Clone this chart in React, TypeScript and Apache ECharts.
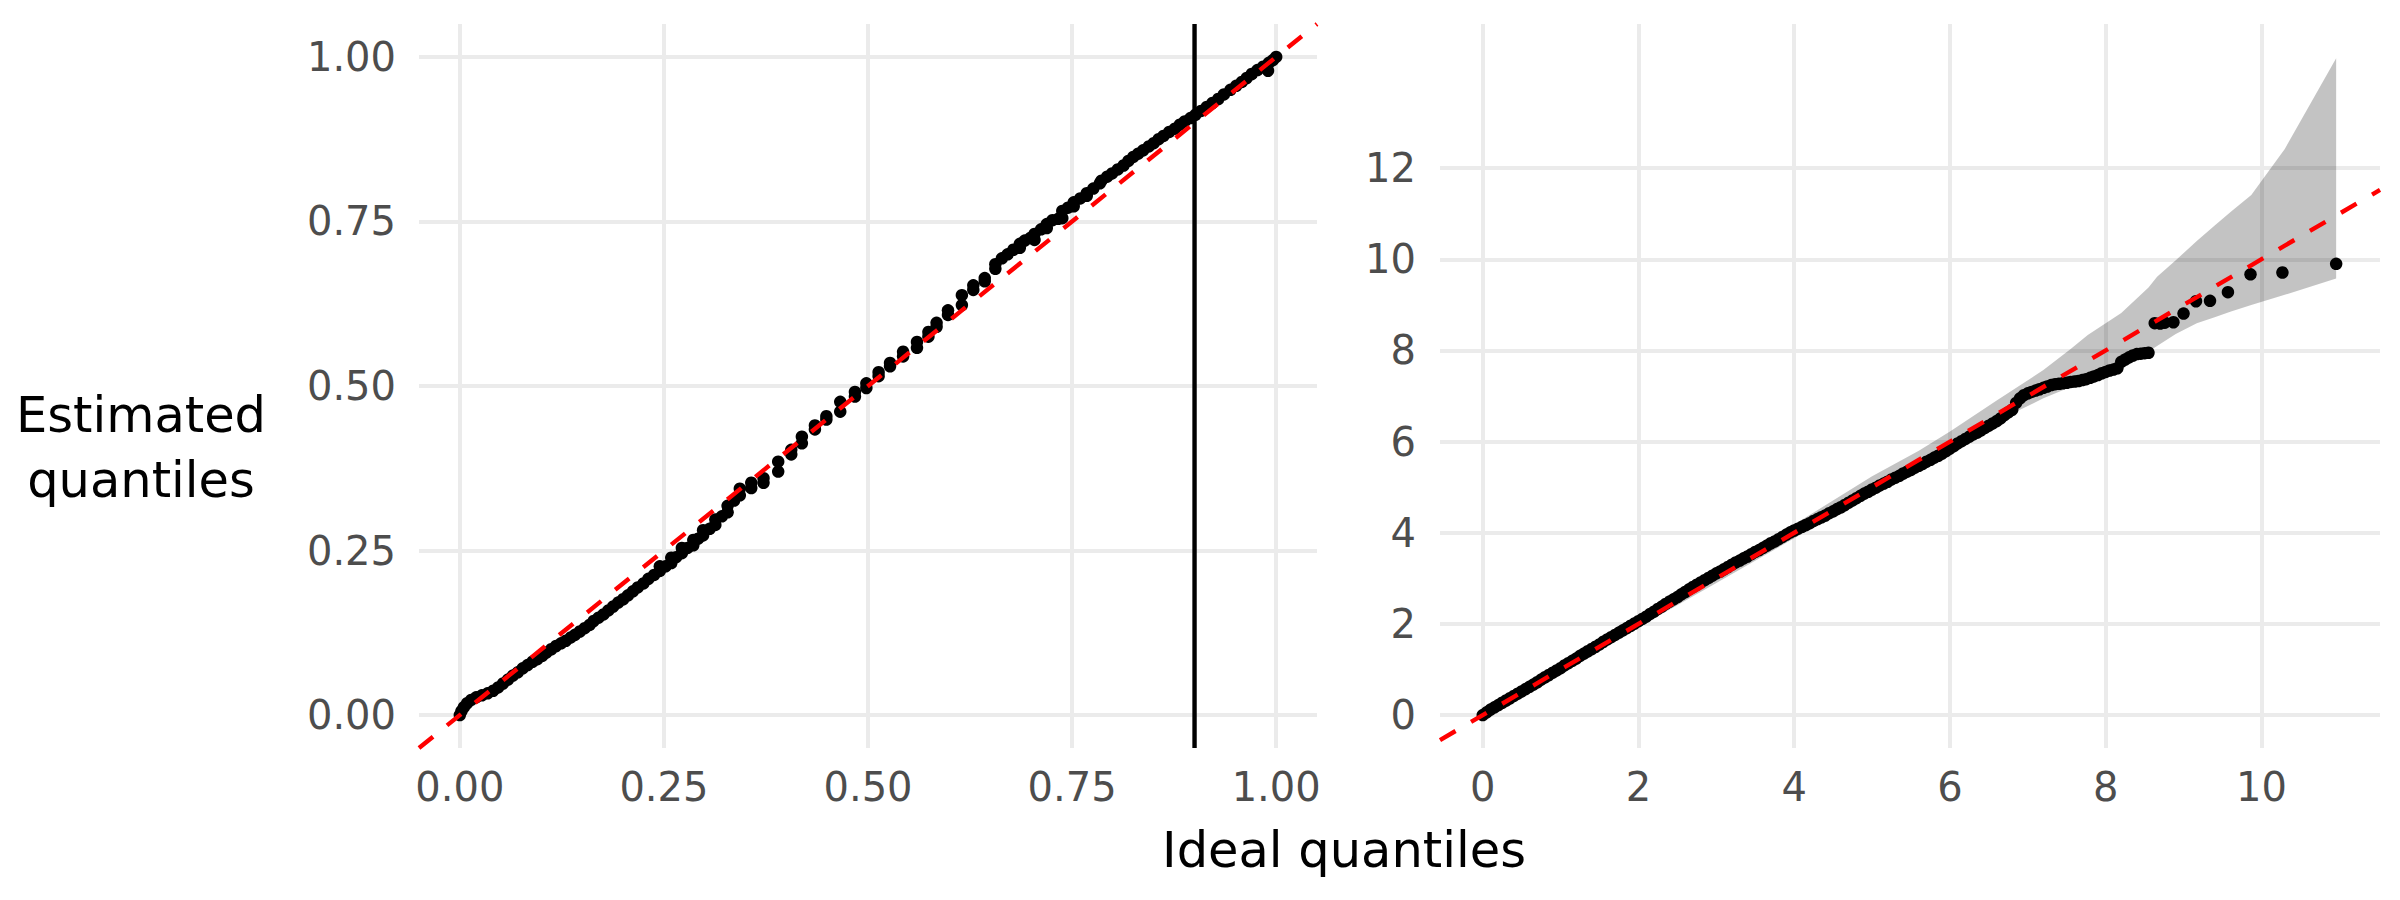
import { useEffect, useRef } from "react";
import * as echarts from "echarts";

// ---------- data ----------
const leftTicks = [0, 0.25, 0.5, 0.75, 1];
const rightXTicks = [0, 2, 4, 6, 8, 10];
const rightYTicks = [0, 2, 4, 6, 8, 10, 12];
const cutoff = 0.9;

const leftRange = [-0.05, 1.05];
const rightXRange = [-0.549, 11.523];
const rightYRange = [-0.722, 15.163];

const leftIdeal = [
  0.000, 0.002, 0.005, 0.009, 0.014, 0.020, 0.027, 0.034, 0.041, 0.047,
  0.053, 0.059, 0.065, 0.071, 0.077, 0.083, 0.089, 0.095, 0.101, 0.106,
  0.112, 0.118, 0.124, 0.130, 0.136, 0.141, 0.147, 0.153, 0.159, 0.164,
  0.170, 0.176, 0.182, 0.188, 0.194, 0.200, 0.206, 0.212, 0.218, 0.225,
  0.231, 0.238, 0.245, 0.245, 0.252, 0.259, 0.259, 0.265, 0.272, 0.272,
  0.279, 0.286, 0.286, 0.292, 0.298, 0.298, 0.306, 0.313, 0.313, 0.321,
  0.328, 0.328, 0.336, 0.343, 0.343, 0.357, 0.357, 0.372, 0.372, 0.390,
  0.390, 0.406, 0.406, 0.419, 0.419, 0.435, 0.435, 0.449, 0.449, 0.466,
  0.466, 0.484, 0.484, 0.498, 0.498, 0.513, 0.513, 0.527, 0.527, 0.543,
  0.543, 0.560, 0.560, 0.574, 0.574, 0.584, 0.584, 0.598, 0.598, 0.615,
  0.615, 0.629, 0.629, 0.643, 0.643, 0.656, 0.656, 0.664, 0.671, 0.678,
  0.686, 0.686, 0.692, 0.699, 0.704, 0.704, 0.712, 0.719, 0.719, 0.726,
  0.733, 0.738, 0.738, 0.745, 0.752, 0.752, 0.760, 0.768, 0.768, 0.776,
  0.784, 0.786, 0.793, 0.799, 0.806, 0.813, 0.819, 0.825, 0.831, 0.837,
  0.844, 0.850, 0.856, 0.862, 0.869, 0.876, 0.882, 0.888, 0.895, 0.901,
  0.908, 0.915, 0.922, 0.929, 0.936, 0.944, 0.951, 0.958, 0.964, 0.970,
  0.977, 0.984, 0.990, 0.991, 0.996, 1.000,
];
const leftEstimated = [
  0.000, 0.006, 0.012, 0.018, 0.023, 0.027, 0.030, 0.033, 0.037, 0.042,
  0.048, 0.054, 0.060, 0.065, 0.071, 0.076, 0.081, 0.085, 0.090, 0.095,
  0.100, 0.105, 0.109, 0.113, 0.118, 0.122, 0.127, 0.132, 0.137, 0.143,
  0.148, 0.153, 0.159, 0.165, 0.171, 0.176, 0.182, 0.188, 0.194, 0.200,
  0.207, 0.213, 0.219, 0.226, 0.226, 0.231, 0.239, 0.240, 0.246, 0.254,
  0.254, 0.258, 0.266, 0.268, 0.273, 0.281, 0.283, 0.289, 0.297, 0.302,
  0.308, 0.318, 0.326, 0.334, 0.344, 0.345, 0.353, 0.353, 0.360, 0.370,
  0.385, 0.396, 0.403, 0.413, 0.423, 0.434, 0.440, 0.449, 0.454, 0.461,
  0.476, 0.484, 0.491, 0.497, 0.504, 0.515, 0.521, 0.530, 0.535, 0.545,
  0.552, 0.558, 0.567, 0.575, 0.582, 0.590, 0.596, 0.608, 0.615, 0.623,
  0.638, 0.646, 0.653, 0.659, 0.664, 0.678, 0.685, 0.694, 0.700, 0.707,
  0.710, 0.716, 0.721, 0.725, 0.722, 0.731, 0.738, 0.740, 0.746, 0.752,
  0.754, 0.755, 0.766, 0.771, 0.773, 0.779, 0.785, 0.789, 0.793, 0.800,
  0.808, 0.812, 0.818, 0.823, 0.829, 0.835, 0.842, 0.848, 0.853, 0.858,
  0.864, 0.869, 0.875, 0.880, 0.886, 0.891, 0.897, 0.902, 0.907, 0.912,
  0.918, 0.924, 0.930, 0.936, 0.943, 0.950, 0.956, 0.962, 0.968, 0.974,
  0.980, 0.985, 0.979, 0.991, 0.995, 1.000,
];

const rightIdeal = [
  0.00, 0.05, 0.10, 0.15, 0.20, 0.25, 0.30, 0.35, 0.40, 0.45,
  0.50, 0.55, 0.60, 0.65, 0.70, 0.75, 0.80, 0.85, 0.90, 0.95,
  1.00, 1.05, 1.10, 1.15, 1.20, 1.25, 1.30, 1.35, 1.40, 1.45,
  1.50, 1.55, 1.60, 1.65, 1.70, 1.75, 1.80, 1.85, 1.90, 1.95,
  2.00, 2.05, 2.10, 2.15, 2.20, 2.25, 2.30, 2.35, 2.40, 2.45,
  2.50, 2.55, 2.60, 2.65, 2.70, 2.75, 2.80, 2.85, 2.90, 2.95,
  3.00, 3.05, 3.10, 3.15, 3.20, 3.25, 3.30, 3.35, 3.40, 3.45,
  3.50, 3.55, 3.60, 3.65, 3.70, 3.75, 3.80, 3.85, 3.90, 3.95,
  4.00, 4.05, 4.10, 4.15, 4.20, 4.25, 4.30, 4.35, 4.40, 4.45,
  4.50, 4.55, 4.60, 4.65, 4.70, 4.75, 4.80, 4.85, 4.90, 4.95,
  5.00, 5.05, 5.10, 5.15, 5.20, 5.25, 5.30, 5.35, 5.40, 5.45,
  5.50, 5.55, 5.60, 5.65, 5.70, 5.75, 5.80, 5.85, 5.90, 5.95,
  6.00, 6.05, 6.10, 6.15, 6.20, 6.25, 6.30, 6.35, 6.40, 6.45,
  6.50, 6.55, 6.60, 6.65, 6.70, 6.75, 6.80, 6.85, 6.90, 6.95,
  7.00, 7.05, 7.10, 7.15, 7.20, 7.25, 7.30, 7.35, 7.40, 7.45,
  7.50, 7.55, 7.60, 7.65, 7.70, 7.75, 7.80, 7.85, 7.90, 7.95,
  8.00, 8.05, 8.10, 8.15, 8.20, 8.25, 8.30, 8.35, 8.40, 8.45,
  8.50, 8.55, 8.63, 8.70, 8.76, 8.87, 9.00, 9.16, 9.34, 9.57,
  9.86, 10.27, 10.96,
];
const rightEstimated = [
  0.00, 0.06, 0.12, 0.17, 0.22, 0.27, 0.32, 0.37, 0.42, 0.47,
  0.52, 0.57, 0.62, 0.67, 0.72, 0.78, 0.83, 0.88, 0.93, 0.98,
  1.03, 1.09, 1.14, 1.19, 1.24, 1.30, 1.35, 1.40, 1.45, 1.50,
  1.55, 1.61, 1.66, 1.71, 1.76, 1.81, 1.86, 1.91, 1.96, 2.01,
  2.06, 2.11, 2.16, 2.22, 2.27, 2.33, 2.38, 2.44, 2.49, 2.54,
  2.59, 2.65, 2.70, 2.76, 2.81, 2.86, 2.91, 2.96, 3.01, 3.06,
  3.11, 3.15, 3.20, 3.25, 3.30, 3.35, 3.39, 3.44, 3.48, 3.53,
  3.58, 3.62, 3.67, 3.72, 3.77, 3.81, 3.86, 3.91, 3.96, 4.01,
  4.05, 4.09, 4.13, 4.17, 4.21, 4.26, 4.30, 4.34, 4.38, 4.43,
  4.47, 4.52, 4.56, 4.61, 4.66, 4.71, 4.76, 4.81, 4.86, 4.90,
  4.95, 4.99, 5.04, 5.08, 5.12, 5.17, 5.21, 5.25, 5.30, 5.34,
  5.38, 5.43, 5.47, 5.51, 5.56, 5.60, 5.65, 5.69, 5.74, 5.79,
  5.85, 5.90, 5.96, 6.01, 6.06, 6.11, 6.16, 6.20, 6.25, 6.30,
  6.35, 6.40, 6.45, 6.51, 6.58, 6.64, 6.70, 6.85, 6.95, 7.02,
  7.06, 7.09, 7.12, 7.15, 7.18, 7.21, 7.24, 7.26, 7.27, 7.28,
  7.29, 7.31, 7.32, 7.33, 7.35, 7.37, 7.40, 7.43, 7.46, 7.50,
  7.53, 7.56, 7.58, 7.61, 7.75, 7.80, 7.85, 7.89, 7.92, 7.93,
  7.94, 7.95, 8.60, 8.59, 8.61, 8.62, 8.81, 9.08, 9.09, 9.28,
  9.67, 9.71, 9.90,
];

const bandIdeal = [0, 1, 2, 3, 4, 5, 5.6, 6.0, 6.6, 7.2, 7.55, 7.77, 8.2, 8.55, 8.66, 8.9, 9.17, 9.4, 9.6, 9.87, 10.3, 10.96];
const bandUpper = [0.02, 1.06, 2.1, 3.14, 4.18, 5.24, 5.8, 6.22, 6.9, 7.57, 8.03, 8.34, 8.82, 9.38, 9.62, 9.98, 10.4, 10.74, 11.03, 11.41, 12.42, 14.41];
const bandLower = [0, 0.96, 1.93, 2.9, 3.88, 4.85, 5.5, 5.89, 6.45, 6.95, 7.2, 7.35, 7.65, 7.98, 8.1, 8.36, 8.6, 8.73, 8.85, 9.0, 9.22, 9.58];

// ---------- chart ----------
const FONT = "DejaVu Sans";

function makeAxis(
  gridIndex: number,
  range: number[],
  ticks: number[],
  fmt: (v: number) => string,
  margin: number
) {
  return {
    type: "value",
    gridIndex,
    min: range[0],
    max: range[1],
    axisLine: { show: false },
    axisTick: { show: false, customValues: ticks },
    axisLabel: {
      customValues: ticks,
      formatter: fmt,
      color: "#4D4D4D",
      fontSize: 40,
      fontFamily: FONT,
      margin,
    },
    splitLine: { show: true, lineStyle: { color: "#EBEBEB", width: 4 } },
    minorSplitLine: { show: false },
  };
}

export default function App() {
  const ref = useRef<HTMLDivElement>(null);

  useEffect(() => {
    if (!ref.current) return;
    const chart = echarts.init(ref.current, null, { renderer: "svg" });

    const leftPts = leftIdeal.map((x, i) => [x, leftEstimated[i]]);
    const rightPts = rightIdeal.map((x, i) => [x, rightEstimated[i]]);
    const f2 = (v: number) => v.toFixed(2);
    const f0 = (v: number) => String(Math.round(v));

    const pointStyle = { color: "#000000", opacity: 1 };
    const dash = { color: "#FF0000", width: 4.4, type: [18, 18] };

    const option: any = {
      animation: false,
      backgroundColor: "#FFFFFF",
      grid: [
        { left: 419, top: 24, width: 898, height: 724 },
        { left: 1440, top: 24, width: 940, height: 724 },
      ],
      xAxis: [
        makeAxis(0, leftRange, leftTicks, f2, 19),
        makeAxis(1, rightXRange, rightXTicks, f0, 19),
      ],
      yAxis: [
        makeAxis(0, leftRange, leftTicks, f2, 23),
        makeAxis(1, rightYRange, rightYTicks, f0, 24),
      ],
      graphic: [
        {
          type: "text",
          x: 1344,
          y: 850,
          style: {
            text: "Ideal quantiles",
            fontSize: 49.5,
            fontFamily: FONT,
            fill: "#000000",
            align: "center",
            verticalAlign: "middle",
          },
        },
        {
          type: "text",
          x: 141,
          y: 447.5,
          style: {
            text: "Estimated\nquantiles",
            fontSize: 49.5,
            lineHeight: 65,
            fontFamily: FONT,
            fill: "#000000",
            align: "center",
            verticalAlign: "middle",
          },
        },
      ],
      series: [
        // confidence band (right panel)
        {
          type: "custom",
          xAxisIndex: 1,
          yAxisIndex: 1,
          z: 1,
          silent: true,
          data: [[bandIdeal[0], bandLower[0]]],
          renderItem: (_params: any, api: any) => {
            const pts: number[][] = [];
            for (let i = 0; i < bandIdeal.length; i++) pts.push(api.coord([bandIdeal[i], bandUpper[i]]));
            for (let i = bandIdeal.length - 1; i >= 0; i--) pts.push(api.coord([bandIdeal[i], bandLower[i]]));
            return {
              type: "polygon",
              shape: { points: pts },
              style: { fill: "rgba(0,0,0,0.235)", stroke: "none" },
            };
          },
        },
        {
          type: "scatter",
          xAxisIndex: 0,
          yAxisIndex: 0,
          z: 2,
          symbolSize: 12.5,
          itemStyle: pointStyle,
          data: leftPts,
          silent: true,
        },
        {
          type: "scatter",
          xAxisIndex: 1,
          yAxisIndex: 1,
          z: 2,
          symbolSize: 12.5,
          itemStyle: pointStyle,
          data: rightPts,
          silent: true,
        },
        {
          type: "line",
          xAxisIndex: 0,
          yAxisIndex: 0,
          z: 3,
          showSymbol: false,
          symbol: "none",
          silent: true,
          data: [
            [cutoff, leftRange[0]],
            [cutoff, leftRange[1]],
          ],
          lineStyle: { color: "#000000", width: 4.4, type: "solid" },
        },
        {
          type: "line",
          xAxisIndex: 0,
          yAxisIndex: 0,
          z: 4,
          showSymbol: false,
          symbol: "none",
          silent: true,
          data: [
            [leftRange[0], leftRange[0]],
            [leftRange[1], leftRange[1]],
          ],
          lineStyle: dash,
        },
        {
          type: "line",
          xAxisIndex: 1,
          yAxisIndex: 1,
          z: 4,
          showSymbol: false,
          symbol: "none",
          silent: true,
          data: [
            [rightXRange[0], rightXRange[0]],
            [rightXRange[1], rightXRange[1]],
          ],
          lineStyle: dash,
        },
      ],
    };

    chart.setOption(option);
    return () => chart.dispose();
  }, []);

  return (
    <div
      ref={ref}
      style={{ position: "fixed", left: 0, top: 0, width: 2400, height: 900, background: "#fff" }}
    />
  );
}
